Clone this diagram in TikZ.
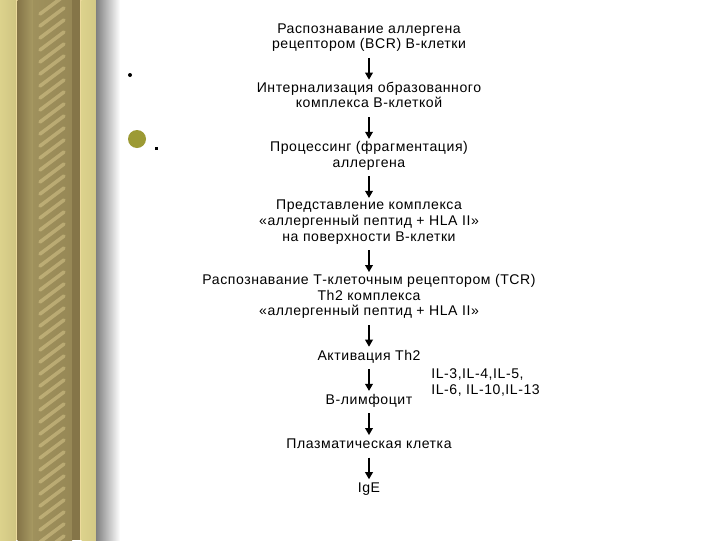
\documentclass[tikz,border=0pt]{standalone}
\usepackage{fontspec}
\setmainfont{Liberation Sans}
\newfontfamily\flowfont[LetterSpace=4]{Liberation Sans}
\usetikzlibrary{arrows.meta,positioning}
\definecolor{gold}{HTML}{DCD28C}
\definecolor{olive}{HTML}{857548}
\definecolor{ropelight}{HTML}{ECDA9C}
\definecolor{bulletolive}{HTML}{9C9A34}

\begin{document}
\begin{tikzpicture}[
  x=0.025cm, y=-0.025cm,
  node distance=0.7cm,
  flowbox/.style={align=center, inner sep=0pt, font=\flowfont\fontsize{10}{11.1}\selectfont, execute at begin node=\strut, execute at end node=\strut},
  arrow/.style={-{Triangle[length=5pt, width=5.5pt]}, line width=0.9pt, shorten <=3pt, shorten >=1.5pt}
]
\useasboundingbox (0,0) rectangle (720,540);
\fill[white] (0,0) rectangle (720,540);

% gold frame on the left
\shade[left color=gold, right color=gold!85!olive] (0,0) rectangle (16,540);
\fill[ropelight] (16,0) rectangle (17.5,540);
\shade[left color=olive, right color=olive!60!gold] (17.5,0) rectangle (33,540);
\shade[left color=olive!70!gold, middle color=ropelight!85!olive, right color=olive!80!gold] (33,0) rectangle (72,540);
\begin{scope}
  \clip (33,0) rectangle (72,540);
  \foreach \k in {0,...,46}
    \draw[ropelight, line width=2.5pt, opacity=0.4, line cap=round] (40,\k*12+14) -- (64,\k*12-4);
\end{scope}
\fill[olive] (72,0) rectangle (80,540);
\fill[ropelight] (80,0) rectangle (81.5,540);
\shade[left color=gold, right color=gold!90!olive] (81.5,0) rectangle (96,540);
\shade[left color=black!50, right color=white] (96,0) rectangle (120,540);

% bullets
\fill[black] (130,75) circle (2);
\fill[bulletolive] (137,139) circle (9);
\fill[black] (154.5,146.5) rectangle (157.5,149.5);

% flow
\node[flowbox] (recog) at (369,38.5) {Распознавание аллергена\\рецептором (BCR) В-клетки};
\node[flowbox, below=of recog] (intern) {Интернализация образованного\\комплекса В-клеткой};
\node[flowbox, below=of intern] (proc) {Процессинг (фрагментация)\\аллергена};
\node[flowbox, below=of proc] (pres) {Представление комплекса\\«аллергенный пептид + HLA II»\\на поверхности В-клетки};
\node[flowbox, below=of pres] (tcr) {Распознавание Т-клеточным рецептором (TCR)\\Th2 комплекса\\«аллергенный пептид + HLA II»};
\node[flowbox, below=of tcr] (act) {Активация Th2};
\node[flowbox, below=of act] (blym) {В-лимфоцит};
\node[flowbox, below=of blym] (plasma) {Плазматическая клетка};
\node[flowbox, below=of plasma] (ige) {IgE};

\path (act) -- (blym) coordinate[midway] (mid);
\node[flowbox, align=left, right=1.55cm of mid, yshift=-3.5pt] (ils) {IL-3,IL-4,IL-5,\\IL-6, IL-10,IL-13};

\draw[arrow] (recog) -- (intern);
\draw[arrow] (intern) -- (proc);
\draw[arrow] (proc) -- (pres);
\draw[arrow] (pres) -- (tcr);
\draw[arrow] (tcr) -- (act);
\draw[arrow] (act) -- (blym);
\draw[arrow] (blym) -- (plasma);
\draw[arrow] (plasma) -- (ige);
\end{tikzpicture}
\end{document}
